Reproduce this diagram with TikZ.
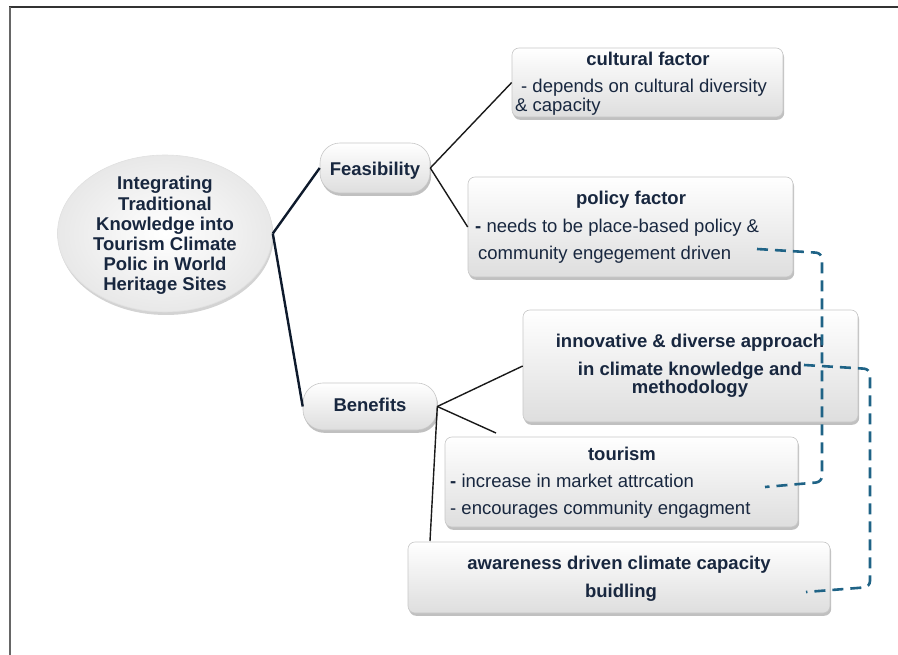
\documentclass[tikz,border=0pt]{standalone}
\usepackage{fontspec}
\setmainfont{Liberation Sans}
\usetikzlibrary{shapes.geometric,shadows,calc}
\definecolor{navy}{HTML}{18273F}
\definecolor{dashc}{RGB}{31,99,134}
\definecolor{linec}{HTML}{0E1A2C}
\begin{document}
\begin{tikzpicture}[x=1pt,y=-1pt,
 card/.style={draw=black!22, line width=0.6pt, rounded corners=7pt, top color=white, bottom color=black!13,
   drop shadow={shadow xshift=1.2pt, shadow yshift=-2.8pt, opacity=0.45, fill=black!55}, inner sep=0pt},
 pill/.style={card, rounded corners=20pt},
 ttl/.style={font=\fontsize{18.5}{20.1}\selectfont\bfseries, text=navy, inner sep=0pt, anchor=base},
 txt/.style={font=\fontsize{18.5}{20.1}\selectfont, text=navy, inner sep=0pt, anchor=base west},
 trunk/.style={draw=linec, line width=2.4pt},
 twig/.style={draw=black!90, line width=1.4pt},
 dashlink/.style={draw=dashc, line width=2.6pt, dash pattern=on 11pt off 7pt, rounded corners=6pt}]
\useasboundingbox (0,0) rectangle (898,655);
% frame
\draw[line width=2pt, black!80] (9,7.5) -- (898,7.5);
\draw[line width=2pt, black!60] (10,7) -- (10,655);
% shapes
\node[ellipse, draw=black!12, line width=0.6pt, inner color=white, outer color=black!9,
  drop shadow={shadow xshift=1pt, shadow yshift=-3pt, opacity=0.35, fill=black!50},
  minimum width=215pt, minimum height=157pt, inner sep=0pt] (root) at (165,233.5) {};
\node[card, minimum width=271pt, minimum height=69pt] (cult) at (647.5,82.5) {};
\node[card, minimum width=325pt, minimum height=100pt] (pol) at (630.5,227) {};
\node[card, minimum width=335pt, minimum height=112pt] (inno) at (690.5,366) {};
\node[card, minimum width=353pt, minimum height=90pt] (tour) at (621.5,482) {};
\node[card, minimum width=422pt, minimum height=71pt] (awar) at (619,577.5) {};
\node[pill, minimum width=110pt, minimum height=50pt] (feas) at (375,168) {};
\node[pill, minimum width=134pt, minimum height=47pt] (bene) at (370,406.5) {};
% texts
\node[align=center, font=\fontsize{18.5}{20.1}\selectfont\bfseries, text=navy, inner sep=0pt] (roottext) at (165,235.5)
  {Integrating\\Traditional\\Knowledge into\\Tourism Climate\\Polic in World\\Heritage Sites};
\node[ttl] (feast) at (375,175.5) {Feasibility};
\node[ttl] (benet) at (370,411) {Benefits};
\node[ttl] (cultt) at (648,66) {cultural factor};
\node[txt] (cult1) at (521,93) {- depends on cultural diversity};
\node[txt] (cult2) at (515,112) {\& capacity};
\node[ttl] (polt) at (631,205) {policy factor};
\node[txt] (pol1) at (475,233) {\textbf{-} needs to be place-based policy \&};
\node[txt] (pol2) at (478,260) {community engegement driven};
\node[ttl] (inno1) at (690,348) {innovative \& diverse approach};
\node[ttl] (inno2) at (690,376) {in climate knowledge and};
\node[ttl] (inno3) at (690,394) {methodology};
\node[ttl] (tourt) at (622,460) {tourism};
\node[txt] (tour1) at (450,487) {\textbf{-} increase in market attrcation};
\node[txt] (tour2) at (450,514) {- encourages community engagment};
\node[ttl] (awar1) at (619,569) {awareness driven climate capacity};
\node[ttl] (awar2) at (621,597) {buidling};
% connectors
\draw[trunk] (root.east) -- (feas.west);
\draw[trunk] (root.east) -- (bene.west);
\draw[twig] (feas.east) -- (cult.west);
\draw[twig] (feas.east) -- (pol.west);
\draw[twig] (bene.east) -- (inno.west);
\coordinate (tourend) at (496,433);
\draw[twig] (bene.east) -- (tourend);
\coordinate (awarend) at (430,541);
\draw[twig] (bene.east) -- (awarend);
% dashed links
\coordinate (d1s) at (757,249);
\coordinate (d1a) at (822,253);
\coordinate (d1b) at (822,482);
\coordinate (d1e) at (765,487);
\draw[dashlink] (d1s) -- (d1a) -- (d1b) -- (d1e);
\coordinate (d2s) at (804,365);
\coordinate (d2a) at (870,369);
\coordinate (d2b) at (870,587);
\coordinate (d2e) at (806,592);
\draw[dashlink] (d2s) -- (d2a) -- (d2b) -- (d2e);
\end{tikzpicture}
\end{document}
